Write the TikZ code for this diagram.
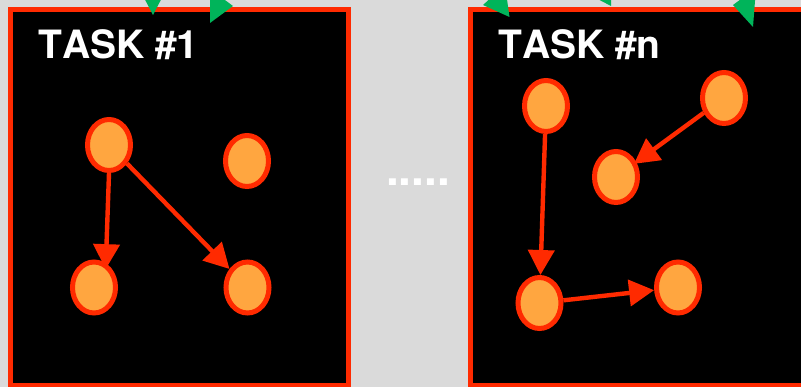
\documentclass[tikz,border=0pt]{standalone}
\usepackage{fontspec}
\setmainfont{TeX Gyre Heros}[Kerning=Off]
\usetikzlibrary{shapes.geometric,arrows.meta}
\definecolor{bggray}{RGB}{218,218,218}
\definecolor{taskred}{RGB}{255,42,0}
\definecolor{dotorange}{RGB}{255,166,64}
\definecolor{flowgreen}{RGB}{0,180,90}
\tikzset{
  taskbox/.style={draw=taskred, line width=5pt, fill=black},
  tasknode/.style={ellipse, draw=taskred, line width=5pt, fill=dotorange,
    minimum width=43pt, minimum height=51pt, inner sep=0pt},
  dep/.style={draw=taskred, line width=4.4pt,
    -{Triangle[width=26pt,length=25pt]}},
  tasklabel/.style={text=white, font=\fontsize{39}{41}\selectfont\bfseries,
    inner sep=0pt, anchor=base west},
  greentip/.style={fill=flowgreen, draw=none}
}
\begin{document}
\begin{tikzpicture}[x=1pt,y=-1pt]
\useasboundingbox (0,0) rectangle (801,387);
\clip (0,0) rectangle (801,387);
\fill[bggray] (0,0) rectangle (801,387);

% task boxes
\draw[taskbox] (10.3,9.3) rectangle (348,386);
\draw[taskbox] (470.8,9.3) rectangle (830,386);

% green arrowheads entering from above (cut off)
\fill[greentip] (140,-10) -- (166,-10) -- (153,15) -- cycle;
\fill[greentip] (210,-11) -- (210,23) -- (233,6) -- cycle;
\fill[greentip] (483,5) -- (505,-15) -- (509.5,17) -- cycle;
\fill[greentip] (590,-5) -- (612,-20) -- (611,6) -- cycle;
\fill[greentip] (733,5) -- (756,-12) -- (753,27) -- cycle;

% labels
\node[tasklabel] (t1) at (38,59) {TASK \#1};
\node[tasklabel] (tn) at (498,59) {TASK \#n};
\node[text=white, font=\fontsize{46}{48}\selectfont\bfseries, inner sep=0pt,
  anchor=base] (dots) at (418,185.5) {.....};

% task 1 nodes
\node[tasknode] (a) at (109,145) {};
\node[tasknode] (b) at (247,161) {};
\node[tasknode] (c) at (94,287.5) {};
\node[tasknode] (d) at (247.5,287.5) {};
\draw[dep, shorten >=-6pt] (a.south) -- (c.64);
\draw[dep] (a) -- (d);

% task n nodes
\node[tasknode] (e) at (546,106) {};
\node[tasknode] (f) at (724,98) {};
\node[tasknode] (g) at (616,177) {};
\node[tasknode] (h) at (539.5,303) {};
\node[tasknode] (i) at (678,287.5) {};
\draw[dep] (e) -- (h);
\draw[dep, shorten >=-3pt] (f) -- (g);
\draw[dep] (h) -- (i);
\end{tikzpicture}
\end{document}
